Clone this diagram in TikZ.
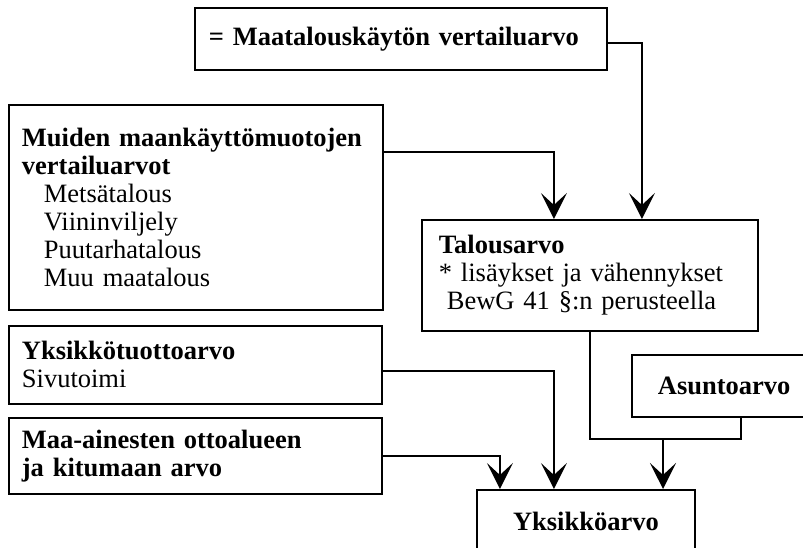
\documentclass[tikz,border=0pt]{standalone}
\usepackage{fontspec}
\setmainfont{Liberation Serif}
\usetikzlibrary{arrows.meta,positioning}
\tikzset{valuebox/.style={draw,rectangle,line width=1.8pt,anchor=north west,align=left,inner ysep=4pt,font=\fontsize{26.5}{28}\selectfont},
    flowline/.style={line width=1.8pt},
    flowarrow/.style={flowline,-{Stealth[length=26pt,width=26pt,inset=12pt]}}
}
\begin{document}
\begin{tikzpicture}[x=1pt,y=-1pt]

\useasboundingbox (0,0) rectangle (803,548);
\clip (0,0) rectangle (803,548);

\node (maatal) [valuebox,inner xsep=14pt,text width=384pt,minimum height=62pt] at (194,7) {\textbf{= Maatalouskäytön vertailuarvo}};

\node (muiden) [valuebox,inner xsep=13pt,text width=348pt,minimum height=205pt] at (8,104) {\textbf{Muiden maankäyttömuotojen}\\
  \textbf{vertailuarvot}\\
  \hspace*{22pt}Metsätalous\\
  \hspace*{22pt}Viininviljely\\
  \hspace*{22pt}Puutarhatalous\\
  \hspace*{22pt}Muu maatalous};

\node (talous) [valuebox,inner xsep=17pt,text width=302pt,minimum height=111pt] at (421,219) {\textbf{Talousarvo}\\
  {*} lisäykset ja vähennykset\\
  \hspace*{8pt}BewG 41 §:n perusteella};

\node (yksituotto) [valuebox,inner xsep=13pt,text width=347pt,minimum height=78pt] at (8,325) {\textbf{Yksikkötuottoarvo}\\ Sivutoimi};

\node (maaaines) [valuebox,inner xsep=13pt,text width=347pt,minimum height=76pt] at (8,417) {\textbf{Maa-ainesten ottoalueen}\\ \textbf{ja kitumaan arvo}};

\node (asunto) [valuebox,inner xsep=26pt,text width=148pt,minimum height=62pt] at (631,354) {\textbf{Asuntoarvo}};

\node (yks) [valuebox,align=center,minimum width=218pt,minimum height=64pt] at (476,489) {\textbf{Yksikköarvo}};

% connectors
\draw [flowarrow] ([yshift=-4pt]maatal.east) -| ([xshift=52pt]talous.north);
\draw [flowarrow] ([yshift=55pt]muiden.east) -| ([xshift=-36pt]talous.north);
\draw [flowarrow] ([yshift=-6pt]yksituotto.east) -| ([xshift=-32pt]yks.north);
\draw [flowarrow] (maaaines.east) -| ([xshift=-86pt]yks.north);

\coordinate (merge) at (663,439);
\draw [flowline] (talous.south) |- (merge) -| ([xshift=9pt]asunto.south);
\draw [flowarrow] (merge) -- (merge |- yks.north);

\end{tikzpicture}
\end{document}
